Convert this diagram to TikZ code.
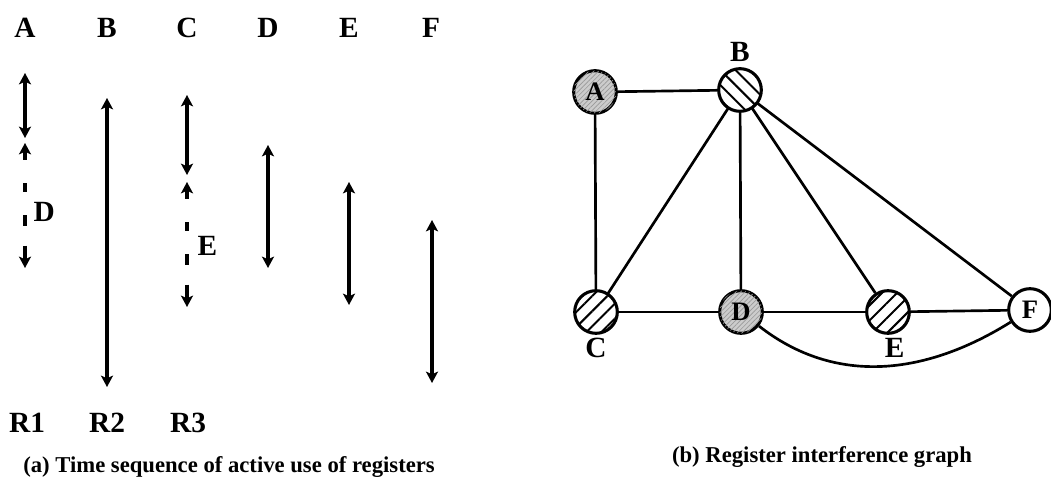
\documentclass[tikz,border=0pt]{standalone}
\usepackage{fontspec}
\setmainfont{Liberation Serif}
\usetikzlibrary{arrows.meta,patterns.meta}
\tikzset{
  vida/.style={line width=2.4pt, {Stealth[length=8.5pt,width=9pt,inset=2pt]}-{Stealth[length=8.5pt,width=9pt,inset=2pt]}},
  vidadash/.style={vida, dash pattern=on 7pt off 17pt on 7pt off 17pt on 8pt off 15pt on 10pt off 20pt},
  reg/.style={circle, draw, line width=2.3pt, minimum size=32pt, inner sep=0pt, font=\fontsize{20}{20}\selectfont\bfseries},
  lleno/.style={reg, fill=gray!40, postaction={pattern={Lines[angle=45,distance=2.5pt,line width=0.5pt]}, pattern color=gray!80}},
  rayaNO/.style={reg, pattern={Lines[angle=-45,distance=8pt,line width=1.5pt]}},
  rayaNE/.style={reg, pattern={Lines[angle=45,distance=8pt,line width=1.5pt]}},
  arista/.style={line width=2pt},
  etiq/.style={font=\fontsize{22}{22}\selectfont\bfseries},
  titulo/.style={font=\fontsize{17}{17}\selectfont\bfseries}
}
\begin{document}
\begin{tikzpicture}[x=0.75pt,y=-0.75pt]
  \useasboundingbox[fill=white] (0,0) rectangle (1051,481);

  % Nombres de las variables
  \foreach \n/\x in {A/25,B/107,C/187,D/268,E/349,F/431}
    \node[etiq] at (\x,28) {\n};

  % Tiempos de vida
  \draw[vida] (25,73) -- (25,138);
  \draw[vidadash] (25,143) -- (25,268);
  \node[etiq, anchor=west] at (29,212) {D};
  \draw[vida] (107,98) -- (107,387);
  \draw[vida] (187,95) -- (187,175);
  \draw[vidadash] (187,182) -- (187,307);
  \node[etiq, anchor=west] at (193,246) {E};
  \draw[vida] (268,145) -- (268,268);
  \draw[vida] (349,182) -- (349,305);
  \draw[vida] (432,220) -- (432,383);

  % Registros
  \foreach \r/\x in {R1/27,R2/107,R3/188}
    \node[etiq] at (\x,423) {\r};
  \node[titulo] at (229,467) {(a) Time sequence of active use of registers};

  % Grafo de interferencia
  \node[lleno]  (a) at (595,92)   {A};
  \node[rayaNO] (b) at (740,90)   {};
  \node[rayaNE] (c) at (596,312)  {};
  \node[lleno]  (d) at (741,312)  {D};
  \node[rayaNE] (e) at (888,312)  {};
  \node[reg]    (f) at (1030,310) {F};
  \node[etiq, above=1pt] at (b.north) {B};
  \node[etiq, below=-1pt] at (c.south) {C};
  \node[etiq, below=-1pt, xshift=5pt] at (e.south) {E};

  % Aristas
  \draw[arista] (a) -- (b);
  \draw[arista] (a) -- (c);
  \draw[arista] (b) -- (c);
  \draw[arista] (b) -- (d);
  \draw[arista] (b) -- (e);
  \draw[arista] (b) -- (f);
  \draw[arista] (c) -- (d);
  \draw[arista] (d) -- (e);
  \draw[arista] (e) -- (f);
  \draw[arista] (d) to[out=-38,in=212] (f);

  \node[titulo] at (822,457) {(b) Register interference graph};
\end{tikzpicture}
\end{document}
